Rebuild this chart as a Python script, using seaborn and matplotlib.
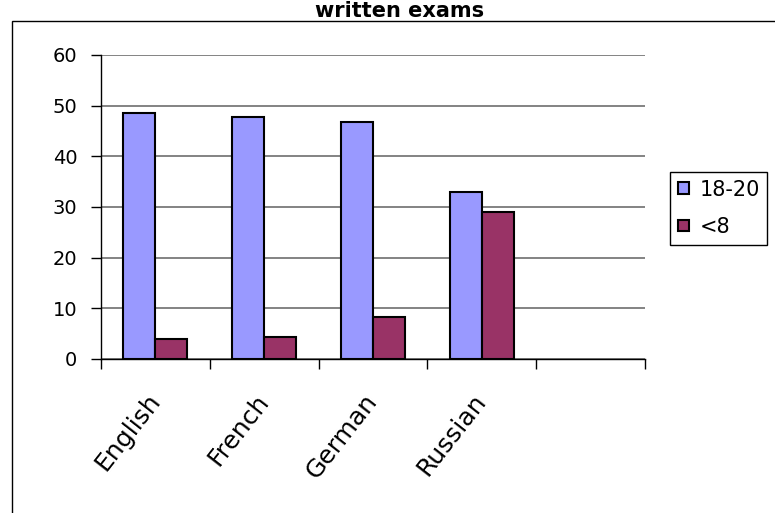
import numpy as np
import pandas as pd
import matplotlib
matplotlib.use("Agg")
import matplotlib.pyplot as plt
import seaborn as sns
from matplotlib.patches import Rectangle

# Data
languages = ["English", "French", "German", "Russian"]
series = ["18-20", "<8"]
top_scores = [48.6, 47.7, 46.7, 32.9]
low_scores = [4.0, 4.4, 8.3, 29.0]
colors = ["#9999FF", "#993366"]

df = pd.DataFrame({
    "language": languages * 2,
    "group": [series[0]] * len(languages) + [series[1]] * len(languages),
    "value": top_scores + low_scores,
})

sns.set_style("white")
plt.rcParams["font.family"] = ["DejaVu Sans"]
plt.rcParams.update({"text.color": "black", "xtick.color": "black",
                     "ytick.color": "black", "axes.labelcolor": "black"})

W, H = 775, 513
fig = plt.figure(figsize=(W / 100, H / 100), dpi=100)
ax = fig.add_axes([101 / W, 1 - 359 / H, 544 / W, 304 / H])

sns.barplot(data=df, x="language", y="value", hue="group", palette=colors,
            saturation=1, width=0.59, edgecolor="black", linewidth=1.5, ax=ax)

handles, labels = ax.get_legend_handles_labels()
if ax.get_legend() is not None:
    ax.get_legend().remove()

# axes styling
ax.set_xlim(-0.5, 4.5)
ax.set_ylim(0, 60)
ax.set_yticks(np.arange(0, 61, 10))
ax.set_xlabel("")
ax.set_ylabel("")
ax.yaxis.grid(True, color="#7a7a7a", linewidth=1.3)
ax.set_axisbelow(True)
for side in ["top", "right"]:
    ax.spines[side].set_visible(False)
for side in ["left", "bottom"]:
    ax.spines[side].set_color("black")
    ax.spines[side].set_linewidth(1)

ax.tick_params(axis="y", direction="out", length=7, width=1, color="black",
               labelsize=14, pad=10, left=True)
ax.set_xticks(range(len(languages)))
ax.set_xticklabels(languages, rotation=52, ha="right", va="center",
                   rotation_mode="anchor", fontsize=18)
ax.tick_params(axis="x", which="major", length=0, pad=27)
ax.set_xticks(np.arange(-0.5, 4.6, 1), minor=True)
ax.tick_params(axis="x", which="minor", direction="out", length=7, width=1,
               color="black", bottom=True)

leg = fig.legend(handles, labels, loc="upper left",
                 bbox_to_anchor=(670 / W, 1 - 172 / H), frameon=True,
                 fancybox=False, edgecolor="black", framealpha=1, fontsize=15,
                 handlelength=0.55, handleheight=0.45, handletextpad=0.5,
                 labelspacing=0.85, borderpad=0.36, borderaxespad=0)
leg.get_frame().set_linewidth(1)

# title at the very top
fig.text(400 / W, 1 - 17 / H, "written exams", ha="center", va="baseline",
         fontsize=15, fontweight="bold")

# outer chart-area border (only left and top edges fall inside the image)
fig.add_artist(Rectangle((12 / W, -0.5), 2, 1.5 - 21 / H,
                         transform=fig.transFigure, fill=False,
                         edgecolor="black", linewidth=1))

fig.savefig("out.png", dpi=100)
